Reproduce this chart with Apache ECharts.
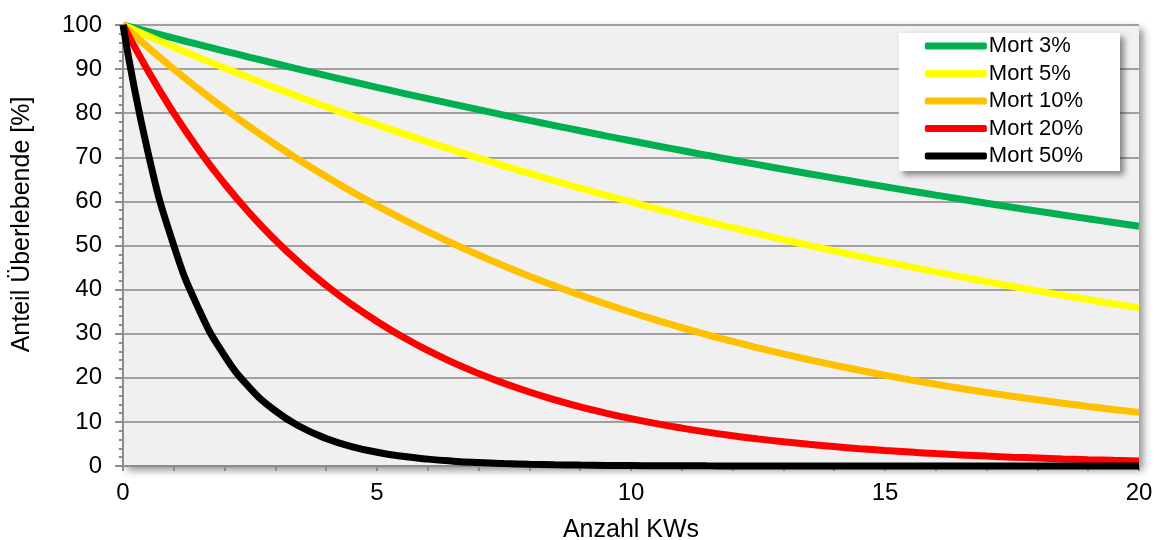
<!DOCTYPE html>
<html>
<head>
<meta charset="utf-8">
<script src="https://cdn.jsdelivr.net/npm/echarts@6/dist/echarts.min.js"></script>
<style>
  html, body { margin: 0; padding: 0; background: #fff; }
  #chart { width: 1159px; height: 540px; }
</style>
</head>
<body>
<div id="chart"></div>
<script>
// Anzahl KWs (x-Werte)
const kws = [0, 0.5, 1, 1.5, 2, 2.5, 3, 3.5, 4, 4.5, 5, 5.5, 6, 6.5, 7, 7.5, 8, 8.5, 9, 9.5, 10,
  10.5, 11, 11.5, 12, 12.5, 13, 13.5, 14, 14.5, 15, 15.5, 16, 16.5, 17, 17.5, 18, 18.5, 19, 19.5, 20];

// Anteil Überlebende [%]
const mort3 = [100, 98.49, 97, 95.53, 94.09, 92.67, 91.27, 89.89, 88.53, 87.19, 85.87, 84.57, 83.30, 82.04,
  80.80, 79.58, 78.37, 77.19, 76.02, 74.87, 73.74, 72.62, 71.53, 70.45, 69.38, 68.33, 67.30, 66.28, 65.28,
  64.29, 63.33, 62.37, 61.43, 60.50, 59.58, 58.68, 57.80, 56.92, 56.06, 55.22, 54.38];
const mort5 = [100, 97.47, 95, 92.59, 90.25, 87.96, 85.74, 83.57, 81.45, 79.39, 77.38, 75.42, 73.51, 71.65,
  69.83, 68.06, 66.34, 64.66, 63.02, 61.43, 59.87, 58.35, 56.88, 55.44, 54.04, 52.67, 51.33, 50.03, 48.77,
  47.53, 46.33, 45.16, 44.01, 42.90, 41.81, 40.75, 39.72, 38.71, 37.74, 36.78, 35.85];
const mort10 = [100, 94.87, 90, 85.38, 81, 76.84, 72.9, 69.16, 65.61, 62.24, 59.05, 56.02, 53.14, 50.42,
  47.83, 45.38, 43.05, 40.84, 38.74, 36.76, 34.87, 33.08, 31.38, 29.77, 28.24, 26.80, 25.42, 24.12, 22.88,
  21.70, 20.59, 19.53, 18.53, 17.58, 16.68, 15.82, 15.01, 14.24, 13.51, 12.82, 12.16];
const mort20 = [100, 89.44, 80, 71.55, 64, 57.24, 51.2, 45.80, 40.96, 36.64, 32.77, 29.31, 26.21, 23.45,
  20.97, 18.76, 16.78, 15.01, 13.42, 12.01, 10.74, 9.60, 8.59, 7.68, 6.87, 6.15, 5.50, 4.92, 4.40,
  3.93, 3.52, 3.15, 2.81, 2.52, 2.25, 2.01, 1.80, 1.61, 1.44, 1.29, 1.15];
const mort50 = [100, 70.71, 50, 35.36, 25, 17.68, 12.5, 8.84, 6.25, 4.42, 3.13, 2.21, 1.56, 1.10,
  0.78, 0.55, 0.39, 0.28, 0.2, 0.14, 0.1, 0.07, 0.05, 0.03, 0.02, 0.02, 0.01, 0.01, 0.01,
  0, 0, 0, 0, 0, 0, 0, 0, 0, 0, 0, 0];

const names = ['Mort 3%', 'Mort 5%', 'Mort 10%', 'Mort 20%', 'Mort 50%'];
const colors = ['#00b050', '#ffff00', '#ffc000', '#ff0000', '#000000'];
const values = [mort3, mort5, mort10, mort20, mort50];

const font = '"Liberation Sans", Arial, sans-serif';
const gray = '#8c8c8c';

let chart = echarts.init(document.getElementById('chart'));
let option = {
  animation: false,
  textStyle: { fontFamily: font },
  grid: {
    left: 123, right: 20, top: 25, bottom: 74,
    outerBoundsMode: 'none',
    containLabel: false,
    show: true,
    backgroundColor: '#f0f0f0',
    borderWidth: 0,
    shadowColor: 'rgba(0,0,0,0.45)',
    shadowBlur: 8,
    shadowOffsetX: 4,
    shadowOffsetY: 4
  },
  legend: {
    orient: 'vertical',
    right: 39,
    top: 33,
    backgroundColor: '#fff',
    shadowColor: 'rgba(0,0,0,0.45)',
    shadowBlur: 6,
    shadowOffsetX: 4,
    shadowOffsetY: 4,
    padding: [2, 37, 4, 26],
    itemGap: 5.5,
    itemWidth: 62,
    itemHeight: 7,
    icon: 'roundRect',
    textStyle: { fontSize: 22, color: '#000', fontFamily: font, padding: [0, 0, 0, -3] },
    data: names
  },
  xAxis: {
    type: 'value',
    min: 0, max: 20, interval: 5,
    name: 'Anzahl KWs',
    nameLocation: 'middle',
    nameGap: 52,
    nameTextStyle: { fontSize: 25, color: '#000', fontFamily: font },
    axisLine: { show: true, lineStyle: { color: gray, width: 2 } },
    axisTick: { show: true, length: 5, lineStyle: { color: gray, width: 2 } },
    minorTick: { show: true, splitNumber: 5, length: 5, lineStyle: { color: gray, width: 2 } },
    axisLabel: { fontSize: 24, color: '#000', margin: 15, fontFamily: font },
    splitLine: { show: false }
  },
  yAxis: {
    type: 'value',
    min: 0, max: 100, interval: 10,
    name: 'Anteil Überlebende [%]',
    nameLocation: 'middle',
    nameGap: 88,
    nameTextStyle: { fontSize: 25, color: '#000', fontFamily: font, padding: [0, 0, 0, 42] },
    axisLine: { show: true, lineStyle: { color: gray, width: 2 } },
    axisTick: { show: true, length: 8, lineStyle: { color: gray, width: 2 } },
    minorTick: { show: true, splitNumber: 5, length: 4, lineStyle: { color: gray, width: 2 } },
    axisLabel: { fontSize: 24, color: '#000', margin: 21, fontFamily: font },
    splitLine: { show: true, lineStyle: { color: '#a0a0a0', width: 2 } }
  },
  series: names.map((n, i) => ({
    name: n,
    type: 'line',
    data: kws.map((x, j) => [x, values[i][j]]),
    showSymbol: false,
    smooth: true,
    clip: false,
    color: colors[i],
    lineStyle: { width: 7, color: colors[i] }
  }))
};
chart.setOption(option);
window.addEventListener('resize', function () { chart.resize(); });
</script>
</body>
</html>
